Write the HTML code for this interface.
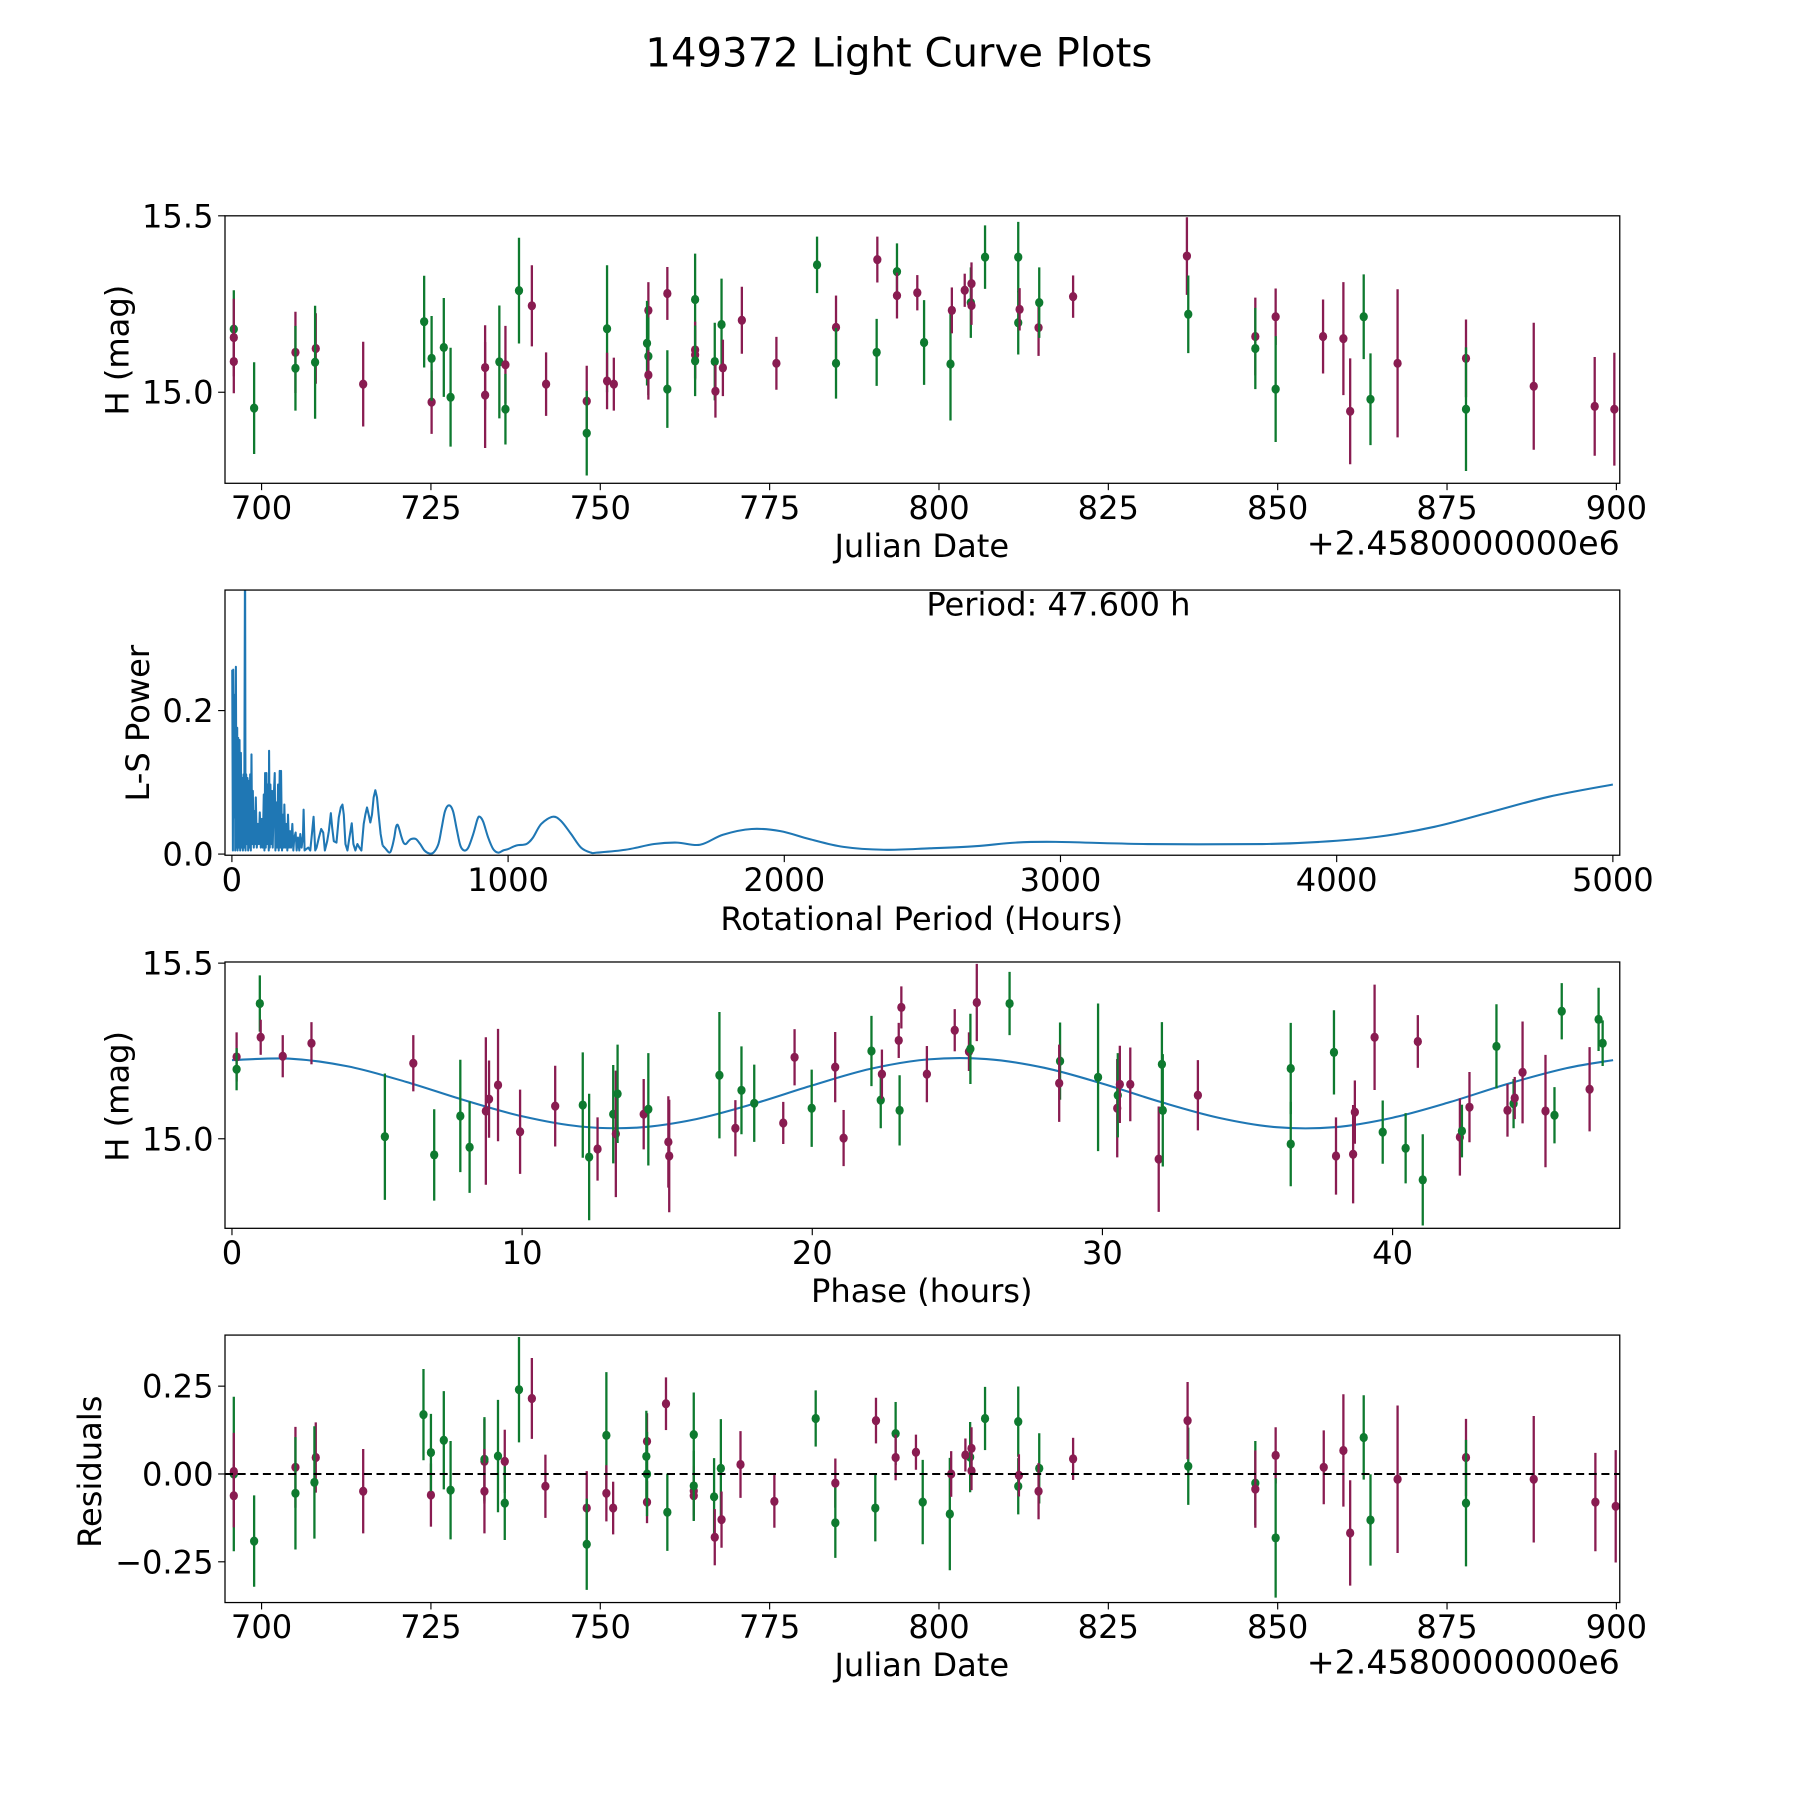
<!DOCTYPE html>
<html><head><meta charset="utf-8"><title>149372 Light Curve Plots</title>
<style>html,body{margin:0;padding:0;background:#fff}svg{display:block}text{font-family:"DejaVu Sans","Liberation Sans",sans-serif;fill:#000}</style>
</head><body>
<svg id="fig" xmlns="http://www.w3.org/2000/svg" width="1800" height="1800" viewBox="0 0 1568 1568">
<defs>
<clipPath id="c1"><rect x="196" y="188" width="1215" height="233"/></clipPath>
<clipPath id="c2"><rect x="196" y="514" width="1215" height="231"/></clipPath>
<clipPath id="c3"><rect x="196" y="838" width="1215" height="232"/></clipPath>
<clipPath id="c4"><rect x="196" y="1163" width="1215" height="233"/></clipPath>
</defs>
<text x="783" y="58" font-size="35" text-anchor="middle">149372 Light Curve Plots</text>
<text x="922" y="536" font-size="28" text-anchor="middle">Period: 47.600 h</text>
</svg>
<script>
// ---- Panel 1: light curve (Julian Date offset 2458000) ----
const lcBand = ['g','p','p','g','p','g','p','g','p','g','p','g','g','g','p','p','g','p','g','g','p','p','p','g','g','p','p','p','g','g','p','p','g','g','p','p','g','g','p','g','p','p','p','g','p','g','g','p','g','p','p','g','g','p','p','g','p','p','g','g','g','p','p','g','p','p','g','p','g','p','g','p','p','p','g','g','p','p','g','p','p','p'];
const lcJd = [695.9,695.9,695.9,698.9,705.0,705.0,708.0,707.9,715.0,724.0,725.1,725.1,726.9,727.9,733.0,733.0,735.1,736.0,736.0,738.0,739.9,742.0,748.0,748.0,751.0,751.0,752.0,757.1,756.9,757.1,757.1,759.9,759.9,764.0,764.0,764.0,764.0,766.9,767.0,767.9,768.1,770.9,776.0,782.0,784.8,784.8,790.8,790.9,793.8,793.8,796.8,797.8,801.7,801.9,803.8,804.7,804.8,804.8,806.8,811.7,811.7,811.9,814.7,814.8,819.8,836.6,836.8,846.7,846.7,849.7,849.7,856.7,859.7,860.7,862.7,863.7,867.7,877.8,877.8,887.8,896.8,899.7];
const lcMag = [15.179,15.155,15.087,14.955,15.113,15.068,15.124,15.085,15.023,15.200,14.972,15.096,15.127,14.986,15.070,14.992,15.086,15.078,14.952,15.288,15.245,15.023,14.975,14.884,15.180,15.032,15.023,15.232,15.139,15.102,15.049,15.280,15.009,15.263,15.120,15.106,15.089,15.087,15.003,15.192,15.069,15.204,15.082,15.361,15.184,15.082,15.113,15.376,15.342,15.274,15.282,15.141,15.080,15.232,15.289,15.254,15.308,15.246,15.383,15.383,15.197,15.235,15.183,15.254,15.271,15.386,15.221,15.158,15.124,15.214,15.009,15.158,15.152,14.946,15.214,14.980,15.082,15.096,14.952,15.017,14.960,14.952];
const lcErr = [0.11,0.11,0.09,0.13,0.115,0.12,0.10,0.16,0.12,0.13,0.09,0.12,0.14,0.14,0.12,0.15,0.16,0.11,0.10,0.15,0.115,0.09,0.10,0.12,0.18,0.08,0.075,0.08,0.12,0.11,0.07,0.075,0.11,0.13,0.08,0.07,0.10,0.11,0.075,0.13,0.08,0.095,0.075,0.08,0.09,0.10,0.095,0.065,0.08,0.065,0.05,0.12,0.16,0.065,0.047,0.10,0.06,0.055,0.09,0.10,0.09,0.06,0.08,0.10,0.06,0.11,0.11,0.11,0.115,0.08,0.15,0.105,0.16,0.15,0.12,0.13,0.21,0.11,0.175,0.18,0.14,0.16];
const lcXTicks = [700,725,750,775,800,825,850,875,900];
const lcYTicks = [15.0,15.5];

// ---- Panel 2: Lomb-Scargle periodogram ----
const lsPeriod = [1.2,3.6,4.8,8.4,10.8,12.0,14.4,16.8,19.2,20.4,22.8,25.2,27.6,30.0,32.5,34.9,37.3,39.7,42.1,44.5,47.6,49.3,51.7,54.1,56.5,58.9,61.3,63.7,66.1,68.5,70.9,73.3,75.7,79.3,81.7,84.1,86.5,90.2,93.8,97.4,101.0,104.6,108.2,111.8,115.4,117.8,120.2,122.6,125.0,127.4,129.8,133.4,134.6,137.0,139.4,143.0,145.4,147.8,151.5,155.1,157.5,161.1,163.5,167.1,169.5,173.1,175.5,177.9,181.5,185.1,187.5,189.9,193.5,197.1,200.7,203.1,206.7,210.4,214.0,218.8,222.4,226.0,230.8,234.4,239.2,244.0,247.6,252.4,257.2,259.6,263.2,269.2,276.5,283.7,289.7,295.7,301.7,306.5,314.9,323.3,330.6,336.6,345.0,351.0,358.2,363.0,369.0,378.6,387.0,394.3,400.3,405.1,411.1,418.3,425.5,433.9,439.9,447.1,454.3,461.6,468.8,477.2,483.2,489.2,495.2,501.2,507.2,513.2,519.3,525.3,531.3,538.5,545.7,555.3,570.9,579.4,587.8,593.8,599.8,605.8,613.0,621.4,629.8,639.5,649.1,665.9,681.5,697.2,714.0,729.6,747.6,759.7,771.7,786.1,800.5,813.8,827.0,841.4,855.8,873.9,889.5,897.9,909.9,927.9,946.0,964.0,982.0,1000,1030,1066,1090,1120,1162,1192,1228,1264,1300,1321,1425,1529,1612,1695,1778,1882,1986,2090,2214,2360,2526,2692,2837,2983,3315,3731,3938,4146,4354,4562,4769,5000];
const lsPower = [0.257,0.005,0.257,0.051,0.222,0.005,0.261,0.009,0.176,0.005,0.162,0.009,0.159,0.005,0.141,0.009,0.106,0.005,0.111,0.009,0.45,0.005,0.111,0.014,0.106,0.005,0.102,0.009,0.111,0.005,0.139,0.014,0.088,0.009,0.060,0.014,0.079,0.009,0.042,0.014,0.058,0.009,0.049,0.009,0.083,0.005,0.113,0.009,0.113,0.014,0.097,0.005,0.144,0.009,0.097,0.014,0.088,0.009,0.079,0.113,0.005,0.072,0.009,0.097,0.005,0.116,0.009,0.116,0.005,0.055,0.009,0.069,0.009,0.042,0.005,0.055,0.009,0.032,0.009,0.042,0.005,0.023,0.030,0.005,0.023,0.005,0.028,0.009,0.025,0.062,0.005,0.007,0.009,0.005,0.028,0.052,0.005,0.009,0.023,0.035,0.030,0.005,0.018,0.032,0.057,0.037,0.018,0.016,0.051,0.065,0.069,0.055,0.014,0.005,0.023,0.043,0.014,0.005,0.014,0.009,0.005,0.042,0.055,0.065,0.055,0.044,0.055,0.079,0.089,0.079,0.055,0.028,0.012,0.008,0.002,0.009,0.023,0.037,0.041,0.035,0.025,0.016,0.014,0.018,0.021,0.021,0.014,0.005,0.001,0.002,0.014,0.037,0.060,0.068,0.060,0.035,0.012,0.005,0.009,0.028,0.049,0.052,0.045,0.023,0.007,0.002,0.005,0.007,0.012,0.014,0.023,0.042,0.052,0.046,0.028,0.009,0.002,0.002,0.006,0.014,0.016,0.013,0.027,0.035,0.032,0.021,0.010,0.006,0.008,0.011,0.016,0.017,0.014,0.014,0.017,0.024,0.038,0.059,0.080,0.097];
const lsXTicks = [0,1000,2000,3000,4000,5000];
const lsYTicks = [0.0,0.2];

// ---- Panel 3: phase-folded curve ----
const phBand = ['p','g','g','p','p','p','g','p','g','g','g','p','p','p','p','p','g','g','p','g','p','g','p','g','p','p','g','p','g','g','p','p','g','p','p','g','g','p','p','g','p','p','p','p','g','p','g','g','p','g','p','g','p','p','p','g','g','p','g','g','g','p','p','p','p','g','g','p','g','p','g','p','g','p','g','p','p','p','g','g','p','g','g','p','g','g','p'];
const phHours = [0.16,0.16,0.96,0.99,1.75,2.74,5.27,6.25,6.97,7.87,8.19,8.75,8.86,9.17,9.93,11.14,12.09,12.31,12.6,13.14,13.23,13.29,14.19,14.35,15.04,15.07,16.8,17.35,17.56,18.0,19.0,19.39,19.98,20.79,21.08,22.04,22.36,22.4,22.98,23.01,23.07,23.95,24.91,25.4,25.45,25.67,26.8,28.54,28.51,29.85,30.51,30.53,30.6,30.96,31.94,32.05,32.08,33.29,36.49,36.49,37.98,38.05,38.64,38.7,39.38,39.66,40.45,40.87,41.04,42.32,42.39,42.65,43.58,43.96,44.17,44.21,44.48,45.27,45.58,45.83,46.79,47.1,47.24];
const phMag = [15.233,15.198,15.385,15.289,15.235,15.272,15.006,15.215,14.954,15.065,14.976,15.079,15.113,15.153,15.020,15.093,15.096,14.948,14.971,15.070,15.014,15.128,15.070,15.084,14.991,14.951,15.181,15.030,15.138,15.101,15.045,15.232,15.087,15.204,15.002,15.250,15.110,15.184,15.280,15.081,15.374,15.184,15.309,15.248,15.256,15.388,15.385,15.221,15.158,15.175,15.087,15.124,15.155,15.155,14.942,15.212,15.081,15.124,15.200,14.985,15.246,14.951,14.956,15.076,15.289,15.019,14.973,15.277,14.883,15.005,15.022,15.090,15.263,15.081,15.100,15.116,15.189,15.079,15.067,15.363,15.141,15.340,15.272];
const phErr = [0.07,0.06,0.08,0.05,0.06,0.06,0.18,0.08,0.13,0.16,0.13,0.21,0.11,0.16,0.12,0.115,0.15,0.18,0.09,0.14,0.18,0.14,0.10,0.16,0.13,0.16,0.18,0.08,0.125,0.11,0.06,0.08,0.11,0.10,0.08,0.10,0.08,0.07,0.05,0.10,0.06,0.08,0.06,0.055,0.10,0.11,0.09,0.11,0.11,0.21,0.14,0.12,0.11,0.105,0.15,0.12,0.16,0.10,0.13,0.12,0.12,0.11,0.14,0.09,0.15,0.09,0.10,0.075,0.13,0.11,0.075,0.10,0.12,0.075,0.07,0.06,0.145,0.16,0.08,0.08,0.12,0.09,0.065];
const modelPhase = [0,2,4,6,8,10,12,14,16,18,20,22,24,26,28,30,32,34,36,38,40,42,44,46,47.6];
const modelMag = [15.224,15.228,15.206,15.162,15.110,15.064,15.035,15.032,15.056,15.100,15.152,15.199,15.226,15.227,15.202,15.157,15.105,15.060,15.033,15.033,15.060,15.105,15.157,15.201,15.224];
const phXTicks = [0,10,20,30,40];
const phYTicks = [15.0,15.5];

// ---- Panel 4: residuals ----
const rsBand = ['g','p','p','g','p','g','p','g','p','g','p','g','g','g','p','g','p','g','p','g','g','p','p','p','g','g','p','p','p','g','p','g','p','g','g','p','p','g','g','p','g','p','p','g','p','p','g','g','p','g','p','p','g','g','g','g','p','p','g','p','p','g','g','p','p','g','p','p','g','p','p','p','g','g','p','p','g','p','p','p','g','p','p'];
const rsJd = [695.9,695.9,695.9,698.9,705.0,705.0,708.0,707.8,715.0,723.9,725.0,725.0,726.9,727.9,732.9,732.9,732.9,734.9,735.9,735.9,738.0,739.9,741.9,748.0,748.0,750.9,750.9,751.9,756.9,756.8,756.9,756.9,759.7,759.9,763.8,763.8,763.8,763.8,766.8,766.9,767.8,767.9,770.7,781.8,775.7,784.7,784.7,790.6,790.7,793.6,793.6,796.6,797.6,801.6,804.6,806.8,801.8,803.9,811.7,804.8,804.8,811.7,814.8,811.8,814.7,836.8,819.8,836.7,846.7,846.7,849.7,856.8,849.7,862.7,859.7,860.7,863.7,867.7,877.8,887.8,877.8,896.9,899.9];
const rsVal = [0.0,0.007,-0.062,-0.191,0.019,-0.055,0.047,-0.024,-0.049,0.169,-0.06,0.061,0.096,-0.046,0.036,0.042,-0.049,0.051,0.036,-0.083,0.24,0.215,-0.035,-0.097,-0.2,0.11,-0.055,-0.097,0.093,0.05,-0.08,0.0,0.20,-0.109,0.112,-0.048,-0.062,-0.034,-0.065,-0.18,0.016,-0.13,0.027,0.158,-0.078,-0.026,-0.139,-0.097,0.152,0.115,0.047,0.062,-0.08,-0.114,0.048,0.158,0.0,0.054,0.149,0.073,0.009,-0.035,0.016,-0.004,-0.049,0.022,0.043,0.152,-0.026,-0.043,0.053,0.019,-0.182,0.104,0.067,-0.168,-0.131,-0.015,0.047,-0.015,-0.083,-0.08,-0.092];
const rsErr = [0.22,0.11,0.09,0.13,0.115,0.16,0.10,0.16,0.12,0.13,0.09,0.11,0.14,0.14,0.12,0.12,0.12,0.16,0.09,0.105,0.15,0.115,0.09,0.105,0.13,0.18,0.08,0.075,0.08,0.13,0.06,0.12,0.075,0.11,0.12,0.07,0.07,0.10,0.11,0.08,0.14,0.08,0.095,0.08,0.075,0.07,0.10,0.095,0.065,0.09,0.065,0.05,0.12,0.16,0.10,0.09,0.065,0.047,0.10,0.06,0.055,0.08,0.10,0.06,0.08,0.11,0.06,0.11,0.12,0.11,0.08,0.105,0.17,0.12,0.16,0.15,0.13,0.21,0.11,0.18,0.18,0.14,0.16];
const rsXTicks = [700,725,750,775,800,825,850,875,900];
const rsYTicks = [0.25,0.0,-0.25];
const rsYLabels = ['0.25','0.00','\u22120.25'];

const NS = 'http://www.w3.org/2000/svg';
const svg = document.getElementById('fig');
const COL = {g:'#0e7a2f', p:'#891c51'};
function mk(tag, attrs, parent){const e=document.createElementNS(NS,tag);for(const k in attrs)e.setAttribute(k,attrs[k]);(parent||svg).appendChild(e);return e;}
function lin(d0,d1,p0,p1){return v=>p0+(v-d0)*(p1-p0)/(d1-d0);}
function smoothPath(P){
  let d='M'+P[0][0]+','+P[0][1];
  for(let i=0;i<P.length-1;i++){
    const p0=P[Math.max(0,i-1)],p1=P[i],p2=P[i+1],p3=P[Math.min(P.length-1,i+2)];
    d+=' C'+(p1[0]+(p2[0]-p0[0])/6)+','+(p1[1]+(p2[1]-p0[1])/6)+' '+(p2[0]-(p3[0]-p1[0])/6)+','+(p2[1]-(p3[1]-p1[1])/6)+' '+p2[0]+','+p2[1];
  }
  return d;
}

const x1 = lin(694.6,900.5,196,1411), y1 = lin(14.742,15.5,421,188);
const x2 = lin(-25,5025,196,1411), y2 = v=>744-v*625;
const x3 = lin(-0.24,47.83,196,1411), y3 = v=>992-(v-15)*306;
const x4 = x1, y4 = v=>1284-v*306;

function frame(name, top, bottom){
  const r = mk('rect',{x:196,y:top,width:1215,height:bottom-top,fill:'none',stroke:'#000','stroke-width':1.1});
  
  
}
function xticks(name, ticks, sx, bottom, labels){
  ticks.forEach((t,i)=>{
    const X=sx(t);
    const l=mk('line',{x1:X,x2:X,y1:bottom,y2:bottom+6,stroke:'#000','stroke-width':1});
    
    
    const tx=mk('text',{x:X,y:bottom+31,'font-size':28,'text-anchor':'middle'});
    tx.textContent = labels ? labels[i] : String(t);
    
    
  });
}
function yticks(name, ticks, sy, labels){
  ticks.forEach((t,i)=>{
    const Y=sy(t);
    const l=mk('line',{x1:190,x2:196,y1:Y,y2:Y,stroke:'#000','stroke-width':1});
    
    
    const tx=mk('text',{x:186,y:Y+10,'font-size':28,'text-anchor':'end'});
    tx.textContent = labels ? labels[i] : t.toFixed(1);
    
    
  });
}
function label(name, text, x, y, rot){
  const t=mk('text',{x:x,y:y,'font-size':28,'text-anchor':'middle'});
  if(rot) t.setAttribute('transform','rotate(-90 '+x+' '+y+')');
  t.textContent=text;
  
  
}
function errPoints(name, clip, xs, ys, es, bands, sx, sy){
  const g=mk('g',{'clip-path':'url(#'+clip+')'});
  
  
  xs.forEach((xv,i)=>{
    const X=sx(xv), c=COL[bands[i]]||COL.p;
    const l=mk('line',{x1:X,x2:X,y1:sy(ys[i]-es[i]),y2:sy(ys[i]+es[i]),stroke:c,'stroke-width':2},g);
    
    
    const d=mk('ellipse',{cx:X,cy:sy(ys[i]),rx:3.6,ry:4,fill:c},g);
    
    
  });
}

// Panel 1
errPoints('light-curve','c1',lcJd,lcMag,lcErr,lcBand,x1,y1);
frame('light-curve',188,421);
xticks('light-curve',lcXTicks,x1,421);
yticks('light-curve',lcYTicks,y1);
label('light-curve-x-axis-title','Julian Date',803,485);
label('light-curve-y-axis-title','H (mag)',112,305,true);
const off1=mk('text',{x:1411,y:483,'font-size':29,'text-anchor':'end'});
off1.textContent='+2.4580000000e6';



// Panel 2
(function(){
  const g=mk('g',{'clip-path':'url(#c2)',fill:'none',stroke:'#1f77b4','stroke-width':1.8,'stroke-linejoin':'round'});
  
  
  let split=lsPeriod.findIndex(p=>p>=545);
  const spiky=lsPeriod.slice(0,split+1).map((p,i)=>x2(p).toFixed(2)+','+y2(lsPower[i]).toFixed(2)).join(' ');
  mk('polyline',{points:spiky},g);
  const P=lsPeriod.slice(split).map((p,i)=>[x2(p),y2(lsPower[split+i])]);
  mk('path',{d:smoothPath(P)},g);
})();
frame('periodogram',514,745);
xticks('periodogram',lsXTicks,x2,745);
yticks('periodogram',lsYTicks,y2);
label('periodogram-x-axis-title','Rotational Period (Hours)',803,810);
label('periodogram-y-axis-title','L-S Power',130,630,true);

// Panel 3
(function(){
  const P=modelPhase.map((t,i)=>[x3(t),y3(modelMag[i])]);
  const m=mk('path',{d:smoothPath(P),fill:'none',stroke:'#1f77b4','stroke-width':1.8,'clip-path':'url(#c3)'});
  
  
})();
errPoints('phase','c3',phHours,phMag,phErr,phBand,x3,y3);
frame('phase',838,1070);
xticks('phase',phXTicks,x3,1070);
yticks('phase',phYTicks,y3);
label('phase-x-axis-title','Phase (hours)',803,1134);
label('phase-y-axis-title','H (mag)',112,955,true);

// Panel 4
errPoints('residuals','c4',rsJd,rsVal,rsErr,rsBand,x4,y4);
const zl=mk('line',{x1:196,x2:1411,y1:y4(0),y2:y4(0),stroke:'#000','stroke-width':1.8,'stroke-dasharray':'7,4'});


frame('residuals',1163,1396);
xticks('residuals',rsXTicks,x4,1396);
yticks('residuals',rsYTicks,y4,rsYLabels);
label('residuals-x-axis-title','Julian Date',803,1460);
label('residuals-y-axis-title','Residuals',88,1282,true);
const off4=mk('text',{x:1411,y:1458,'font-size':29,'text-anchor':'end'});
off4.textContent='+2.4580000000e6';


</script>
</body></html>
